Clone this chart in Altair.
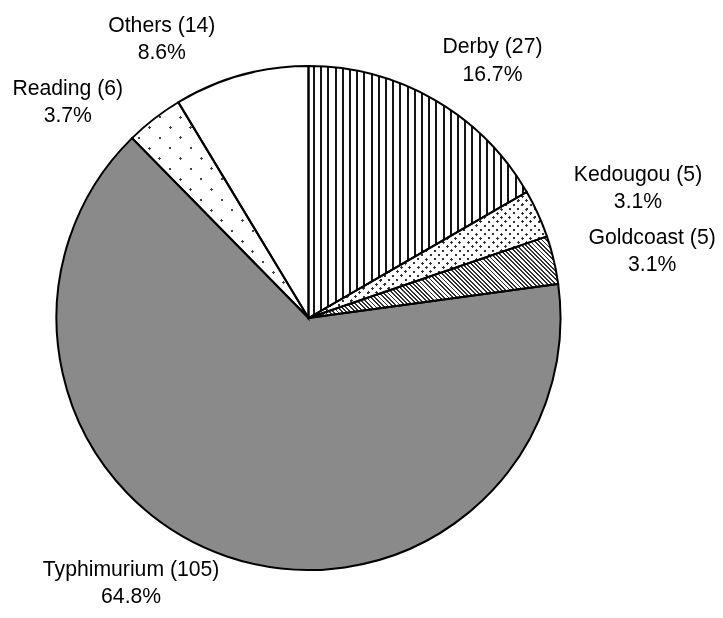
import math
import altair as alt
import pandas as pd

# ---- data ----
names = ["Derby", "Kedougou", "Goldcoast", "Typhimurium", "Reading", "Others"]
counts = [27, 5, 5, 105, 6, 14]

# ---- label placement (style) ----
label_radius = [316, 354, 350, 319, 323, 315]
label_shift_deg = [5.6, 3.0, 2.4, 14.9, -10.4, -12.2]

# ---- style ----
R = 252
W, H = 601, 584
FS, LH = 21.2, 27.2
base_colors = ["#ffffff", "#ffffff", "#ffffff", "#8a8a8a", "#ffffff", "#ffffff"]

total = sum(counts)
df = pd.DataFrame({"idx": list(range(len(names))), "name": names, "count": counts,
                   "lr": label_radius, "ls": label_shift_deg})


def wedge_box(i):
    cum = sum(counts[:i])
    a0 = cum / total * 360
    a1 = (cum + counts[i]) / total * 360
    pts = [(0.0, 0.0)]
    angs = [a0, a1] + [k * 90 for k in range(5) if a0 < k * 90 < a1]
    for a in angs:
        r = math.radians(a)
        pts.append((R * math.sin(r), -R * math.cos(r)))
    xs = [p[0] for p in pts]
    ys = [p[1] for p in pts]
    return max(xs) - min(xs), max(ys) - min(ys)


def stripes(i, angle_deg, pitch, width, dark, light="#ffffff", phase=0.0):
    bw, bh = wedge_box(i)
    nx, ny = math.cos(math.radians(angle_deg)), math.sin(math.radians(angle_deg))
    G = (nx * bw, ny * bh)
    corners = [(0, 0), (1, 0), (0, 1), (1, 1)]
    dots = [c[0] * G[0] + c[1] * G[1] for c in corners]
    cmin = corners[dots.index(min(dots))]
    D = max(dots) - min(dots)
    G2 = G[0] ** 2 + G[1] ** 2
    g = (G[0] * D / G2, G[1] * D / G2)
    stops = [{"offset": 0, "color": light}]
    s = phase
    while s < D:
        for off, col in ((s, light), (s, dark), (s + width, dark), (s + width, light)):
            o = min(max(off / D, 0.0), 1.0)
            stops.append({"offset": round(o, 5), "color": col})
        s += pitch
    stops.append({"offset": 1, "color": light})
    return {"gradient": "linear", "x1": cmin[0], "y1": cmin[1],
            "x2": cmin[0] + g[0], "y2": cmin[1] + g[1], "stops": stops}


th_scale = alt.Scale(domain=[0, 1], range=[0, 2 * math.pi])
theta = alt.Theta("f0:Q", scale=th_scale)
theta2 = alt.Theta2("f1:Q")


def only(name):
    return alt.Chart().transform_filter(alt.datum.name == name)


base = alt.Chart().mark_arc(radius=R).encode(
    theta=theta, theta2=theta2,
    color=alt.Color("name:N", scale=alt.Scale(domain=names, range=base_colors), legend=None),
)

i_d = names.index("Derby")
i_k = names.index("Kedougou")
i_g = names.index("Goldcoast")
i_r = names.index("Reading")

derby = only("Derby").mark_arc(radius=R, fill=stripes(i_d, 0, 7.2, 2.0, "#151515", phase=4.5)).encode(theta=theta, theta2=theta2)
gold = only("Goldcoast").mark_arc(radius=R, fill=stripes(i_g, -45, 3.05, 1.3, "#303030")).encode(theta=theta, theta2=theta2)
ked_a = only("Kedougou").mark_arc(radius=R, fill=stripes(i_k, 45, 5.9, 2.2, "#333333")).encode(theta=theta, theta2=theta2)
ked_b = only("Kedougou").mark_arc(radius=R, blend="lighten", fill=stripes(i_k, -45, 5.9, 2.2, "#333333")).encode(theta=theta, theta2=theta2)
read_a = only("Reading").mark_arc(radius=R, fill=stripes(i_r, 45, 14.6, 2.2, "#444444")).encode(theta=theta, theta2=theta2)
read_b = only("Reading").mark_arc(radius=R, blend="lighten", fill=stripes(i_r, -45, 14.6, 2.2, "#444444")).encode(theta=theta, theta2=theta2)

outline = alt.Chart().mark_arc(radius=R, fillOpacity=0, stroke="#000000", strokeWidth=2).encode(theta=theta, theta2=theta2)

labels = alt.Chart().mark_text(
    font="Liberation Sans", fontSize=FS, lineHeight=LH, align="center",
    baseline="middle", lineBreak="\n", color="#000000", dy=-LH / 2,
).encode(
    theta=alt.Theta("lab:Q", scale=th_scale),
    radius=alt.Radius("lr:Q", scale=alt.Scale(type="linear", domain=[0, 500], range=[0, 500], zero=True)),
    text="label:N",
)

chart = alt.layer(
    base, derby, gold, ked_a, ked_b, read_a, read_b, outline, labels, data=df
).transform_window(
    cum="sum(count)", sort=[alt.SortField("idx")]
).transform_joinaggregate(
    total="sum(count)"
).transform_calculate(
    f0="(datum.cum - datum.count) / datum.total",
    f1="datum.cum / datum.total",
    lab="(datum.f0 + datum.f1) / 2 + datum.ls / 360",
    label="datum.name + ' (' + datum.count + ')\\n' + format(100 * datum.count / datum.total, '.1f') + '%'",
).properties(
    width=W, height=H,
    padding={"left": 0, "top": 18, "right": 106, "bottom": 0},
    autosize=alt.AutoSizeParams(type="none"),
).configure_view(strokeWidth=0)

chart.save("out.html", embed_options={"renderer": "svg", "actions": False})
